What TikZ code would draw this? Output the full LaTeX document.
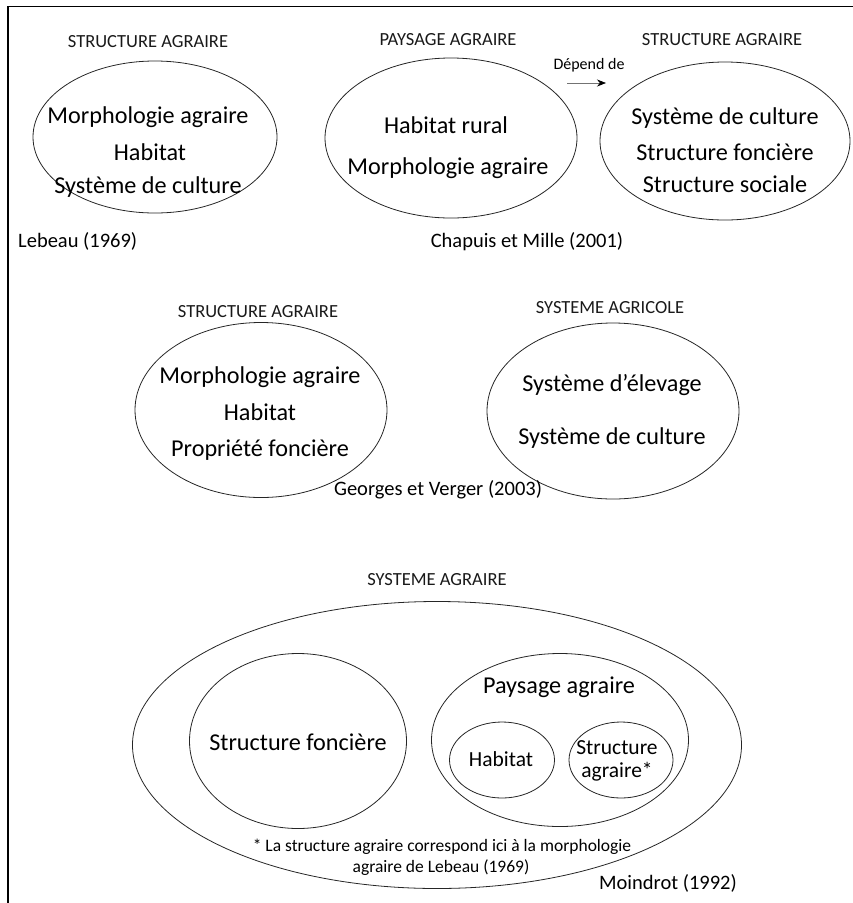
\documentclass[tikz,border=0pt]{standalone}
\usepackage{fontspec}
\setmainfont{Carlito}
\usetikzlibrary{shapes.geometric,arrows.meta}
\begin{document}
\begin{tikzpicture}[x=1pt,y=-1pt,
  ell/.style={draw=black!85,line width=0.8pt,ellipse,inner sep=0pt},
  head/.style={font=\fontsize{18.5}{22}\selectfont,inner sep=0pt,text=black!90},
  big/.style={font=\fontsize{24.2}{28}\selectfont,inner sep=0pt},
  mid/.style={font=\fontsize{21.5}{25}\selectfont,inner sep=0pt},
  cite/.style={font=\fontsize{20.5}{24}\selectfont,inner sep=0pt},
  foot/.style={font=\fontsize{17.5}{20}\selectfont,inner sep=0pt}]
\useasboundingbox (0,0) rectangle (853,903);
% frame
\coordinate (fa) at (8,903);
\coordinate (fb) at (8,6.5);
\coordinate (fc) at (853,6.5);
\draw[line width=1.1pt] (fa) -- (fb) -- (fc);

% ---- Lebeau
\node[ell,minimum width=244,minimum height=152] (e1) at (155,137) {};
\node[head] (h1) at (148,42) {STRUCTURE AGRAIRE};
\node[big] (t11) at (148,117) {Morphologie agraire};
\node[big] (t12) at (150,152) {Habitat};
\node[big] (t13) at (148,187) {Système de culture};
\node[cite,anchor=west] (c1) at (18,241) {Lebeau (1969)};

% ---- Chapuis et Mille
\node[ell,minimum width=252,minimum height=160] (e2) at (451,138) {};
\node[head] (h2) at (448,40) {PAYSAGE AGRAIRE};
\node[big] (t21) at (446,125) {Habitat rural};
\node[big] (t22) at (448,168) {Morphologie agraire};

\node[ell,minimum width=250,minimum height=158] (e3) at (725,141) {};
\node[head] (h3) at (722,40) {STRUCTURE AGRAIRE};
\node[big] (t31) at (725,118) {Système de culture};
\node[big] (t32) at (725,152) {Structure foncière};
\node[big] (t33) at (725,184) {Structure sociale};
\node[font=\fontsize{16}{18}\selectfont,inner sep=0pt] (dep) at (589,65) {Dépend de};
\coordinate (a1) at (567,83);
\coordinate (a2) at (606,83);
\draw[black!55,line width=0.7pt,-{Stealth[length=9pt,width=7pt,black]}] (a1) -- (a2);
\node[cite] (c2) at (527,242) {Chapuis et Mille (2001)};

% ---- Georges et Verger
\node[ell,minimum width=252,minimum height=175] (e4) at (261,410) {};
\node[head] (h4) at (258,312) {STRUCTURE AGRAIRE};
\node[big] (t41) at (260,377) {Morphologie agraire};
\node[big] (t42) at (260,412) {Habitat};
\node[big] (t43) at (260,450) {Propriété foncière};

\node[ell,minimum width=252,minimum height=176] (e5) at (613,411) {};
\node[head] (h5) at (610,308) {SYSTEME AGRICOLE};
\node[big] (t51) at (612,385) {Système d’élevage};
\node[big] (t52) at (612,438) {Système de culture};
\node[cite] (c3) at (438,490) {Georges et Verger (2003)};

% ---- Moindrot
\node[head] (h6) at (437,580) {SYSTEME AGRAIRE};
\node[ell,minimum width=609,minimum height=287] (e6) at (437,745) {};
\node[ell,minimum width=217,minimum height=175] (e7) at (298,741) {};
\node[big] (t7) at (298,742) {Structure foncière};
\node[ell,minimum width=257,minimum height=173] (e8) at (560,740) {};
\node[big] (t8) at (559,687) {Paysage agraire};
\node[ell,minimum width=105,minimum height=76] (e9) at (502,760) {};
\node[mid] (t9) at (501,759) {Habitat};
\node[ell,minimum width=104,minimum height=76] (e10) at (621,760) {};
\node[mid] (t101) at (617,748) {Structure};
\node[mid] (t102) at (617,772) {agraire*};
\node[foot] (f1) at (442,847) {* La structure agraire correspond ici à la morphologie};
\node[foot] (f2) at (441,868) {agraire de Lebeau (1969)};
\node[cite] (c4) at (668,883) {Moindrot (1992)};
\end{tikzpicture}
\end{document}
